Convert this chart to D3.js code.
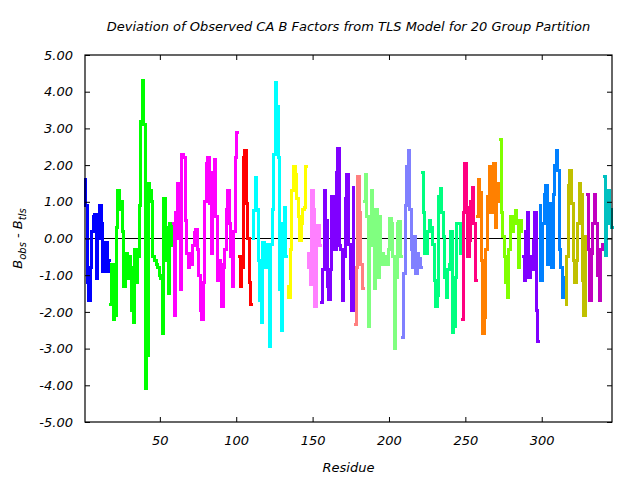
<!DOCTYPE html>
<html>
<head>
<meta charset="utf-8">
<script src="https://cdn.jsdelivr.net/npm/d3@7"></script>
<style>
  html, body { margin: 0; padding: 0; background: #fff; }
  svg { display: block; }
  text { font-family: "DejaVu Sans", Verdana, sans-serif; font-style: italic; fill: #000; }
</style>
</head>
<body>
<svg id="chart" width="640" height="480"></svg>
<script>
// ---- Data (residue 1..346, split by TLS group) ----
const groupColors = ["#0000ff","#00ff00","#ff00ff","#ff0000","#00ffff","#ffff00","#ff80ff","#8000ff","#ff8080","#80ff80",
                     "#8080ff","#00ff80","#ff0080","#ff8000","#80ff00","#8000ff","#0080ff","#c0c000","#c000c0","#00c0c0"];
const groupValues = [
  [1.6, 0.9, -1.2, -1.7, -0.8, 0.2, 0.6, 0.65, -1.1, 0.0, 0.9, 0.4, -0.9, -0.4, -0.1, -0.9, -0.6],
  [-1.8, -0.7, -2.2, -2.1, 0.3, 1.3, 0.8, 1.0, 0.2, -1.3, -0.4, -1.1, -0.5, -0.8, -1.95, -2.3, -0.3, -1.2, -0.5, 0.9,
   3.2, 4.3, 3.1, -4.1, -3.2, 1.5, 1.3, 1.0, -0.5, -0.6, -0.7, -0.8, -1.0, -1.1, -2.6, 1.1, 0.3, -0.6, -1.5, 0.4, -0.2],
  [0.4, -2.1, 0.7, 1.5, 0.0, -1.4, 2.3, 2.2, 0.5, -0.4, -0.8, -0.4, -0.7, -0.2, 0.15, 0.25, -0.3, -1.0, -1.95, -2.2,
   -1.2, 1.0, 2.05, 2.2, 0.95, -0.4, 1.8, 2.15, 0.6, -1.15, -0.6, -0.7, -1.85, -0.8, -0.3, 0.8, 1.3, 0.4, -0.5, -1.3,
   0.2, 2.2, 2.9],
  [-0.5, -1.3, -0.8, 2.2, 2.4, 0.95, 0.0, -1.2, -1.8],
  [0.0, 0.75, 1.65, 0.8, -0.6, -1.7, -2.3, -0.1, -0.8, -0.15, -0.8, -2.95, -0.15, 0.8, 2.3, 4.25, 3.6, 2.2, -1.4, -2.5,
   0.4, 0.85, -0.5],
  [-1.3, -1.6, -0.3, 1.3, 1.95, 1.75, 1.1, 0.6, -0.05, 0.4, 0.8, 0.85, 1.95],
  [-0.4, -0.8, -1.25, 1.3, 0.8, -1.85, 0.05, 0.35, -0.2],
  [-1.75, -0.85, 1.3, 0.5, -1.3, -1.65, -0.85, 1.15, 0.85, -0.3, 1.8, 2.45, -0.2, -0.3, -1.7, -0.5, 1.1, 1.75, -0.15, -1.1,
   -1.95, 1.4],
  [-2.35, -0.8, 1.7, 0.7, -0.7, -1.35],
  [1.0, 1.75, 0.6, -2.4, -0.2, 1.3, 0.6, -1.35, 0.8, -1.05, 0.6, -0.7, -0.4, -0.7, -0.5, -0.7, -0.3, 0.55, 0.4, -0.5,
   -3.0, -1.05, 0.4, 0.45, -0.5],
  [-2.7, -0.95, 0.9, 1.95, 2.4, 0.8, -0.3, -0.8, 0.05, -0.95, -0.4, -0.55, -0.8],
  [1.8, 0.7, -0.4, -0.4, 0.2, 0.5, 0.3, -0.15, -1.15, -1.85, -1.55, 1.15, 1.35, 0.7, 0.05, -1.05, -1.6, -0.85, -0.7, 0.2,
   -2.55, -2.4, -1.05, 0.4, 0.4, -0.4],
  [-2.2, 0.7, 2.05, 0.85, -0.5, -0.05, 1.0, 1.4, 0.4, -1.15],
  [0.6, 1.6, 1.25, -0.6, -2.6, -2.15, -0.3, 1.15, 1.95, 0.7, 1.4, 2.05, 0.3, 1.5, 1.0],
  [2.7, 0.7, 0.05, -0.5, -1.2, -1.6, -0.3, 0.6, 0.2, 0.6, 0.75, 0.4, -0.8, 0.5, 0.2],
  [-0.5, -1.15, 0.2, 0.7, -1.05, -0.5, -0.85, -0.05, 0.7, -1.95, -2.8],
  [0.9, -1.15, 0.4, 1.2, 1.45, -0.7, 0.95, 0.2, -0.8, 1.2, 2.0, 2.4, 1.85, -0.3, -0.8, -1.6, -1.05],
  [-1.8, -0.5, 1.45, 1.85, 0.95, -0.6, -1.2, -0.6, 0.4, 1.5, 1.2, -1.15, -2.1, 0.05],
  [1.2, -0.3, -1.7, -0.4, 0.4, 1.2, 0.4, -1.0, -1.7, -0.3, -0.15],
  [1.7, -0.45, 0.4, 1.3, 0.8, 0.3]
];
const firstResidue = 1;
const xTicks = [50, 100, 150, 200, 250, 300];
const yTicks = [-5, -4, -3, -2, -1, 0, 1, 2, 3, 4, 5];
const titleText = "Deviation of Observed CA B Factors from TLS Model for 20 Group Partition";
const xLabelText = "Residue";

// ---- Layout ----
const svg = d3.select("#chart");
const plot = { left: 85, right: 612, top: 55, bottom: 422 };
const lastResidue = firstResidue + d3.sum(groupValues, g => g.length) - 1;

const x = d3.scaleLinear().domain([firstResidue, lastResidue]).range([plot.left, plot.right]);
const y = d3.scaleLinear().domain([-5, 5]).range([plot.bottom, plot.top]);

const fmt = v => (v < 0 ? "-" : "") + Math.abs(v).toFixed(2);

// zero line
svg.append("line")
  .attr("x1", plot.left).attr("x2", plot.right)
  .attr("y1", y(0)).attr("y2", y(0))
  .attr("stroke", "#000").attr("stroke-width", 1);

// series
const line = d3.line().x(d => x(d.res)).y(d => y(d.val)).curve(d3.curveStep);
let start = firstResidue;
groupValues.forEach((vals, gi) => {
  const pts = vals.map((v, i) => ({ res: start + i, val: v }));
  start += vals.length;
  svg.append("path")
    .datum(pts)
    .attr("d", line)
    .attr("fill", "none")
    .attr("stroke", groupColors[gi])
    .attr("stroke-width", 3)
    .attr("stroke-linejoin", "miter")
    .attr("stroke-linecap", "square")
    .attr("shape-rendering", "crispEdges");
});

// axes (ticks inward on all sides)
const tickLen = 5;
const axB = svg.append("g").attr("transform", `translate(0,${plot.bottom})`)
  .call(d3.axisBottom(x).tickValues(xTicks).tickSizeInner(-tickLen).tickSizeOuter(0).tickPadding(14));
const axT = svg.append("g").attr("transform", `translate(0,${plot.top})`)
  .call(d3.axisTop(x).tickValues(xTicks).tickSizeInner(-tickLen).tickSizeOuter(0).tickFormat(""));
const axL = svg.append("g").attr("transform", `translate(${plot.left},0)`)
  .call(d3.axisLeft(y).tickValues(yTicks).tickSizeInner(-tickLen).tickSizeOuter(0).tickPadding(12).tickFormat(fmt));
const axR = svg.append("g").attr("transform", `translate(${plot.right},0)`)
  .call(d3.axisRight(y).tickValues(yTicks).tickSizeInner(-tickLen).tickSizeOuter(0).tickFormat(""));
[axB, axT, axL, axR].forEach(a => {
  a.select(".domain").remove();
  a.selectAll("line").attr("stroke", "#000");
  a.selectAll("text").attr("font-family", "DejaVu Sans").attr("font-style", "italic").attr("font-size", 13).attr("fill", "#000");
});

// frame
svg.append("rect")
  .attr("x", plot.left).attr("y", plot.top)
  .attr("width", plot.right - plot.left).attr("height", plot.bottom - plot.top)
  .attr("fill", "none").attr("stroke", "#000").attr("stroke-width", 1.2);

// title
svg.append("text")
  .attr("x", (plot.left + plot.right) / 2).attr("y", 31)
  .attr("text-anchor", "middle").attr("font-size", 13)
  .text(titleText);

// x label
svg.append("text")
  .attr("x", (plot.left + plot.right) / 2).attr("y", 472)
  .attr("text-anchor", "middle").attr("font-size", 13)
  .text(xLabelText);

// y label with subscripts
const yl = svg.append("text")
  .attr("transform", `translate(22,${(plot.top + plot.bottom) / 2}) rotate(-90)`)
  .attr("text-anchor", "middle").attr("font-size", 13);
yl.append("tspan").text("B");
yl.append("tspan").attr("font-size", 10).attr("dy", 4).text("obs");
yl.append("tspan").attr("dy", -4).text(" - B");
yl.append("tspan").attr("font-size", 10).attr("dy", 4).text("tls");
</script>
</body>
</html>
